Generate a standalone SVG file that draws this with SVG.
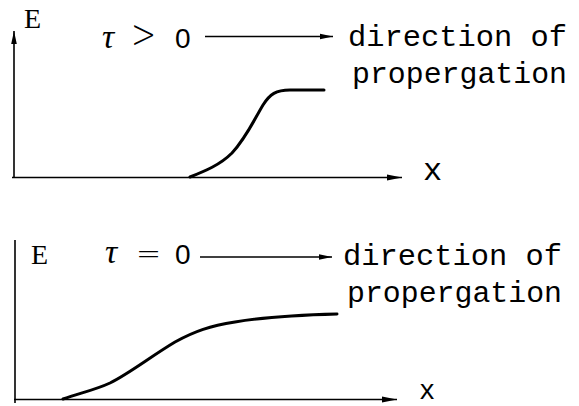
<svg xmlns="http://www.w3.org/2000/svg" width="579" height="406" viewBox="0 0 579 406">
<style>
.ax{stroke:#000;stroke-width:1.6;fill:none}
.cv{stroke:#000;stroke-width:3;fill:none;stroke-linecap:round}
.mono{font-family:"Liberation Mono","Courier New",monospace;fill:#000}
.ser{font-family:"Liberation Serif","Times New Roman",serif;fill:#000}
.tau{font-family:"Liberation Serif","Times New Roman",serif;font-style:italic;fill:#000}
.sym{font-family:"DejaVu Sans",sans-serif;font-weight:200;fill:#000}
.num{font-family:"Liberation Sans",Arial,sans-serif;fill:#000}
</style>
<defs>
<marker id="ah" markerUnits="userSpaceOnUse" markerWidth="16" markerHeight="8" refX="15" refY="4" orient="auto">
<path d="M0,1 L15,4 L0,7 Z" fill="#000"/>
</marker>
<marker id="ahs" markerUnits="userSpaceOnUse" markerWidth="14" markerHeight="8" refX="13" refY="4" orient="auto">
<path d="M0,1.2 L13,4 L0,6.8 Z" fill="#000"/>
</marker>
</defs>
<g id="top-panel">
<g id="top-axes" class="connectors">
<line class="ax" x1="14" y1="178" x2="14" y2="31" marker-end="url(#ahs)"/>
<line class="ax" x1="12" y1="177.5" x2="402" y2="177.5" marker-end="url(#ah)"/>
<line class="ax" x1="205" y1="36.5" x2="333" y2="36.5" stroke-width="1.3" marker-end="url(#ahs)"/>
</g>
<g id="top-curve">
<path class="cv" d="M190,177 C205,171 220,165 232,153 C246,138 254,120 263,105 C270,94 276,90 290,90 L324,90"/>
</g>
<g id="top-labels">
<text class="ser" x="24" y="28" font-size="28">E</text>
<text class="tau" x="102" y="48" font-size="34">τ</text>
<text class="sym" x="131" y="48" font-size="30" transform="translate(131 48) scale(1 1.35) translate(-131 -48)">&gt;</text>
<text class="num" x="175" y="48" font-size="28">0</text>
<text class="mono" x="348" y="45.5" font-size="30" textLength="219" lengthAdjust="spacingAndGlyphs">direction of</text>
<text class="mono" x="352" y="83" font-size="30" textLength="215" lengthAdjust="spacingAndGlyphs">propergation</text>
<text class="mono" x="423" y="180" font-size="32">x</text>
</g>
</g>
<g id="bottom-panel">
<g id="bottom-axes" class="connectors">
<line class="ax" x1="15" y1="240" x2="15" y2="403"/>
<line class="ax" x1="14" y1="399.5" x2="397" y2="399.5" marker-end="url(#ah)"/>
<line class="ax" x1="200" y1="257" x2="332" y2="257" stroke-width="1.3" marker-end="url(#ahs)"/>
</g>
<g id="bottom-curve">
<path class="cv" d="M63,399 C80,393 95,390 110,383 C130,373 150,357 175,342 C195,331 210,326 235,322 C265,317 300,315 337,314"/>
</g>
<g id="bottom-labels">
<text class="ser" x="31" y="264" font-size="28">E</text>
<text class="tau" x="105" y="263" font-size="34">τ</text>
<text class="sym" x="136" y="264" font-size="30">=</text>
<text class="num" x="175" y="264" font-size="28">0</text>
<text class="mono" x="343" y="265" font-size="30" textLength="219" lengthAdjust="spacingAndGlyphs">direction of</text>
<text class="mono" x="347" y="302" font-size="30" textLength="215" lengthAdjust="spacingAndGlyphs">propergation</text>
<text class="mono" x="419" y="399" font-size="27">x</text>
</g>
</g>
</svg>
